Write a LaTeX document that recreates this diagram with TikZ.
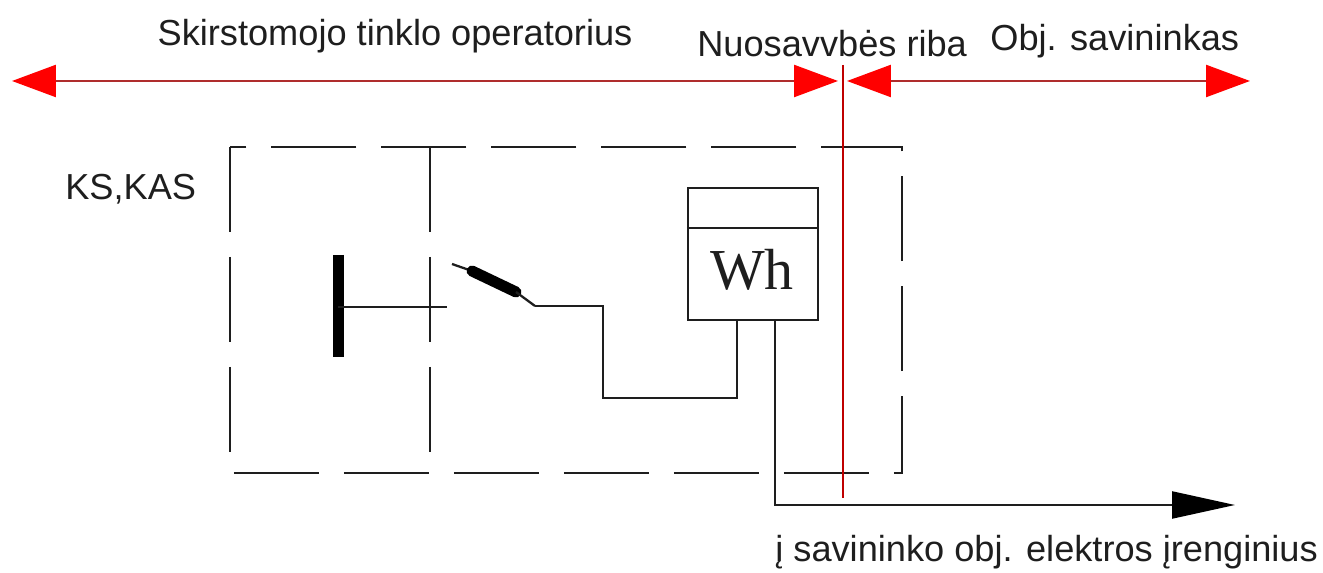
\documentclass[tikz,border=0pt]{standalone}
\usepackage{fontspec}
\setmainfont{Liberation Sans}
\newfontfamily\whfont{Liberation Serif}
\usetikzlibrary{arrows.meta}
\definecolor{redline}{RGB}{175,45,45}
\definecolor{ink}{RGB}{30,30,30}
\begin{document}
\begin{tikzpicture}[x=0.02cm,y=-0.02cm,
  lbl/.style={inner sep=0pt, font=\fontsize{20.6pt}{24pt}\selectfont, text=ink},
  wire/.style={line width=1.3pt, draw=ink},
  dbox/.style={line width=1.5pt, draw=ink, dash pattern=on 1.7cm off 0.5cm},
  redarr/.style={line width=1.4pt, draw=redline, {Triangle[length=0.88cm,width=0.64cm,color=red]}-{Triangle[length=0.88cm,width=0.64cm,color=red]}},
  vred/.style={line width=1.2pt, draw=red!75!black},
  heavy/.style={line width=0.22cm, draw=black},
]
\useasboundingbox (0,0) rectangle (1323,573);
% red property arrows
\coordinate (rl) at (12,81);
\coordinate (rm1) at (838,81);
\coordinate (rm2) at (847,81);
\coordinate (rr) at (1250,81);
\draw[redarr] (rl) -- (rm1);
\draw[redarr] (rm2) -- (rr);
\coordinate (vt) at (843,65);
\coordinate (vb) at (843,498);
% labels
\node[lbl, anchor=base] (t1) at (395,46) {Skirstomojo tinklo operatorius};
\node[lbl, anchor=base west] (t2) at (697,57) {Nuosavvbės riba};
\node[lbl, anchor=base west] (t3) at (990,51) {Obj. savininkas};
\node[lbl, anchor=base west] (t4) at (65,200) {KS,KAS};
\node[lbl, anchor=base west] (t5) at (775,562) {į savininko obj. elektros įrenginius};
% dashed cabinet
\draw[dbox] (230,147) rectangle (902,473);
\coordinate (dt) at (430,147);
\coordinate (db) at (430,473);
\draw[dbox] (dt) -- (db);
% bus bar
\coordinate (bt) at (338,255);
\coordinate (bb) at (338,357);
\draw[heavy] (bt) -- (bb);
\coordinate (bm) at (338,307);
\coordinate (be) at (447,307);
\draw[wire] (bm) -- (be);
% switch / fuse
\coordinate (s0) at (452,264);
\coordinate (s1) at (472,271);
\coordinate (s2) at (516,292);
\coordinate (s3) at (535,306);
\draw[wire] (s0) -- (s1);
\draw[line width=0.22cm, draw=black, line cap=round] (s1) -- (s2);
\draw[wire] (s2) -- (s3);
% meter
\node[draw=ink, line width=1.3pt, inner sep=0pt, minimum width=2.6cm, minimum height=2.64cm] (wh) at (753,254) {};
\draw[wire] (wh.west |- 0,228) -- (wh.east |- 0,228);
\node[inner sep=0pt, font=\whfont\fontsize{33pt}{36pt}\selectfont, text=ink] (whl) at (752,270) {Wh};
\coordinate (w1) at (603,306);
\coordinate (w2) at (603,398);
\coordinate (w3) at (737,398);
\draw[wire] (s3) -- (w1) -- (w2) -- (w3) -- (wh.south -| w3);
\coordinate (o1) at (775,505);
\coordinate (o2) at (1235,505);
\draw[wire, -{Triangle[length=1.26cm,width=0.54cm,color=black]}] (wh.south -| o1) -- (o1) -- (o2);
% property boundary
\draw[vred] (vt) -- (vb);
\end{tikzpicture}
\end{document}
